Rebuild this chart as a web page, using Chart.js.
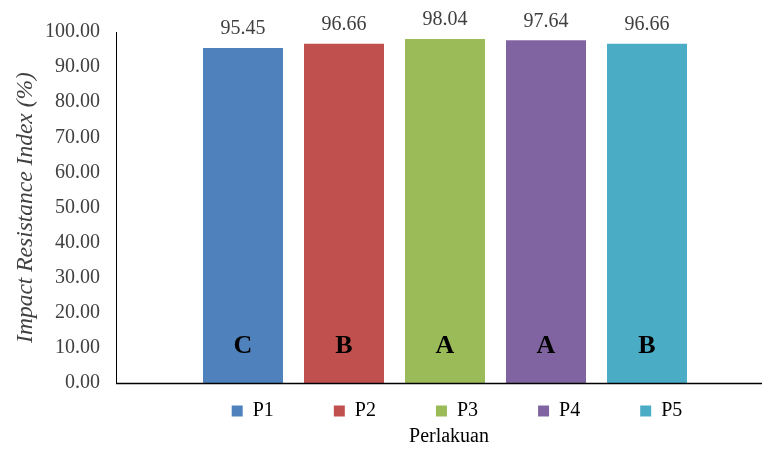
<!DOCTYPE html>
<html>
<head>
<meta charset="utf-8">
<script src="https://cdn.jsdelivr.net/npm/chart.js@4/dist/chart.umd.min.js"></script>
<style>
  html, body { margin: 0; padding: 0; background: #fff; overflow: hidden; }
  /* the x axis of the original runs off the right edge, so the canvas is a bit wider than the window */
  #wrap { width: 774px; height: 451px; }
</style>
</head>
<body>
<div id="wrap"><canvas id="impactChart"></canvas></div>
<script>
var treatments = ["P1", "P2", "P3", "P4", "P5"];
var values = [95.45, 96.66, 98.04, 97.64, 96.66];
var notation = ["C", "B", "A", "A", "B"];
var colors = ["#4F81BD", "#C0504D", "#9BBB59", "#8064A2", "#4BACC6"];

var serif = "'Liberation Serif', 'Times New Roman', serif";

var datasets = [];
for (var i = 0; i < treatments.length; i++) {
    datasets.push({
        // trailing spaces widen the legend item so the entries spread out like the original
        label: i < treatments.length - 1 ? treatments[i] + "          " : treatments[i],
        data: [values[i]],
        backgroundColor: colors[i],
        borderWidth: 0,
        categoryPercentage: 0.7675,
        barPercentage: 0.792
    });
}

// value on top and letter near the bottom of every bar
var barText = {
    id: "barText",
    afterDatasetsDraw: function(chart) {
        var ctx = chart.ctx;
        var y = chart.scales.y;
        ctx.save();
        ctx.textAlign = "center";
        ctx.textBaseline = "middle";
        chart.data.datasets.forEach(function(ds, i) {
            var bar = chart.getDatasetMeta(i).data[0];
            ctx.fillStyle = "#404040";
            ctx.font = "20px " + serif;
            ctx.fillText(values[i].toFixed(2), bar.x, bar.y - 19);
            ctx.fillStyle = "#000";
            ctx.font = "bold 26px " + serif;
            ctx.fillText(notation[i], bar.x, y.getPixelForValue(10.4));
        });
        ctx.restore();
    }
};

// x axis line, run all the way to the right edge
var baseLine = {
    id: "baseLine",
    afterDatasetsDraw: function(chart) {
        var ctx = chart.ctx;
        var y0 = Math.round(chart.scales.y.getPixelForValue(0)) + 0.5;
        ctx.save();
        ctx.strokeStyle = "#000";
        ctx.lineWidth = 1.5;
        ctx.beginPath();
        ctx.moveTo(chart.chartArea.left, y0);
        ctx.lineTo(chart.width, y0);
        ctx.stroke();
        ctx.restore();
    }
};

// nudge the legend and the x title a little to the right
var bottomShift = {
    id: "bottomShift",
    afterLayout: function(chart) {
        chart.legend.left += 12;
        chart.legend.right += 12;
        chart.titleBlock.left += 4;
        chart.titleBlock.right += 4;
    }
};

new Chart(document.getElementById("impactChart"), {
    type: "bar",
    data: { labels: [""], datasets: datasets },
    plugins: [barText, baseLine, bottomShift],
    options: {
        responsive: true,
        maintainAspectRatio: false,
        animation: false,
        layout: { padding: { top: 32, right: 0, bottom: 2, left: 12 } },
        plugins: {
            tooltip: { enabled: false },
            legend: {
                position: "bottom",
                fullSize: false,
                labels: {
                    boxWidth: 11,
                    boxHeight: 11,
                    padding: 10,
                    color: "#000",
                    font: { family: serif, size: 20 }
                }
            },
            title: {
                display: true,
                position: "bottom",
                fullSize: false,
                text: "Perlakuan",
                color: "#000",
                padding: { top: -6, bottom: 0 },
                font: { family: serif, size: 20, weight: "normal" }
            }
        },
        scales: {
            x: {
                grid: { display: false },
                border: { display: false },
                ticks: { display: false }
            },
            y: {
                min: 0,
                max: 100,
                afterFit: function(scale) { scale.width = 104; },
                grid: { display: false, drawTicks: false },
                border: { display: true, color: "#000", width: 1 },
                ticks: {
                    stepSize: 10,
                    padding: 16,
                    color: "#404040",
                    font: { family: serif, size: 20 },
                    callback: function(v) { return v.toFixed(2); }
                },
                title: {
                    display: true,
                    text: "Impact Resistance Index (%)",
                    color: "#404040",
                    padding: { top: 0, bottom: 6 },
                    font: { family: serif, size: 23.5, style: "italic" }
                }
            }
        }
    }
});
</script>
</body>
</html>
